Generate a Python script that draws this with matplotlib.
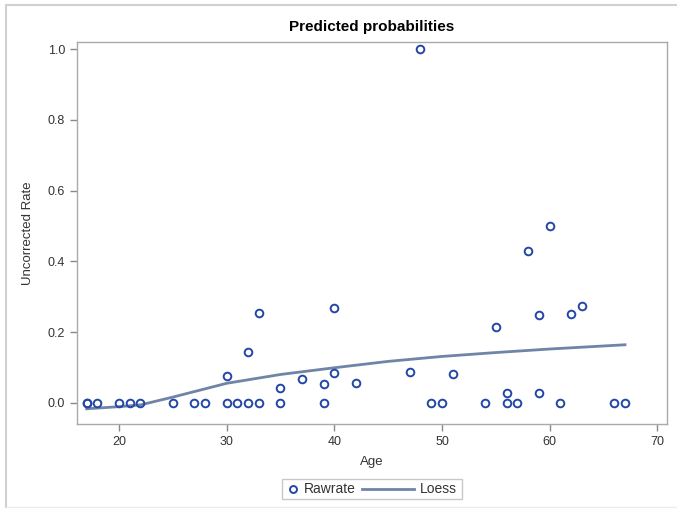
import matplotlib.pyplot as plt
from matplotlib.lines import Line2D
from matplotlib.patches import Rectangle

plt.rcParams["font.family"] = ["Liberation Sans", "DejaVu Sans"]

# Raw rates by age
age = [17, 17, 18, 20, 21, 22, 25, 27, 28, 30, 30, 31, 32, 32, 33, 33,
       35, 35, 37, 39, 39, 40, 40, 42, 47, 48, 49, 50, 51, 54, 55, 56,
       56, 57, 58, 59, 59, 60, 61, 62, 63, 66, 67]
rawrate = [0, 0, 0, 0, 0, 0, 0, 0, 0, 0.077, 0, 0, 0.144, 0, 0.254, 0,
           0.042, 0, 0.068, 0.054, 0, 0.268, 0.085, 0.056, 0.088, 1.0, 0, 0, 0.080, 0, 0.215, 0.028,
           0, 0, 0.429, 0.249, 0.027, 0.5, 0, 0.25, 0.274, 0, 0]

# Loess fit
loess_age = [17, 20, 22, 25, 30, 35, 40, 45, 50, 55, 60, 67]
loess_val = [-0.017, -0.011, -0.006, 0.016, 0.055, 0.080, 0.099, 0.117, 0.131, 0.142, 0.152, 0.164]

W, H = 677, 509
mcolor = "#2347a6"
lcolor = "#6f84a6"

fig = plt.figure(figsize=(6.77, 5.09), dpi=100)
ax = fig.add_axes([0.1137, 0.167, 0.8715, 0.7505])

ax.plot(loess_age, loess_val, color=lcolor, linewidth=2, zorder=2)
ax.plot(age, rawrate, linestyle="none", marker="o", markersize=5.5,
        markerfacecolor="none", markeredgecolor=mcolor, markeredgewidth=1.4, zorder=3)

ax.set_xlim(16.1, 70.9)
ax.set_ylim(-0.06, 1.02)
ax.set_xticks([20, 30, 40, 50, 60, 70])
ax.set_yticks([0.0, 0.2, 0.4, 0.6, 0.8, 1.0])
ax.set_yticklabels(["0.0", "0.2", "0.4", "0.6", "0.8", "1.0"])

for s in ax.spines.values():
    s.set_color("#a8aaa8")
    s.set_linewidth(1)
ax.tick_params(colors="#888888", labelcolor="#333333", labelsize=9, length=5, width=1)

ax.set_xlabel("Age", fontsize=9.5, color="#333333", labelpad=6)
ax.set_ylabel("Uncorrected Rate", fontsize=9.5, color="#333333", labelpad=10)
ax.set_title("Predicted probabilities", fontsize=11, fontweight="bold", pad=8)

# legend drawn by hand (short marker key, long line key like SAS)
def px(x, y):
    return x / W, 1 - y / H

x0, y0 = px(282, 499)
x1, y1 = px(462, 479)
fig.add_artist(Rectangle((x0, y0), x1 - x0, y1 - y0, transform=fig.transFigure,
                         facecolor="white", edgecolor="#c8c8c8", linewidth=1))
mx, my = px(293, 489)
fig.add_artist(Line2D([mx], [my], linestyle="none", marker="o", markersize=5,
                      markerfacecolor="none", markeredgecolor=mcolor, markeredgewidth=1.4))
tx, ty = px(304, 489)
fig.text(tx, ty, "Rawrate", fontsize=10, color="#333333", va="center", ha="left")
lx0, _ = px(362, 489)
lx1, _ = px(414, 489)
fig.add_artist(Line2D([lx0, lx1], [my, my], color=lcolor, linewidth=2))
tx2, _ = px(420, 489)
fig.text(tx2, ty, "Loess", fontsize=10, color="#333333", va="center", ha="left")

# outer light frame of the graph area
fig.add_artist(Line2D([0.009, 1.0], [0.991, 0.991], color="#d0d0d0", linewidth=1.5))
fig.add_artist(Line2D([0.009, 0.009], [0.004, 0.991], color="#d0d0d0", linewidth=1.5))
fig.add_artist(Line2D([0.009, 1.0], [0.004, 0.004], color="#ececec", linewidth=1))

fig.savefig("out.png", dpi=100)
